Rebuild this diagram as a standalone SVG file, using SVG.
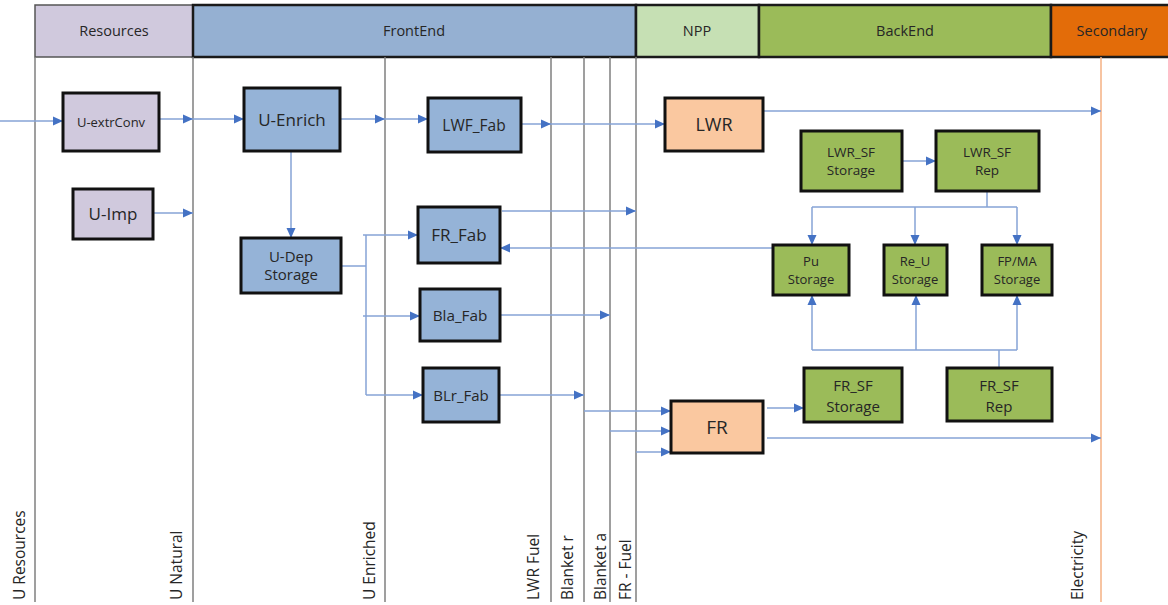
<svg xmlns="http://www.w3.org/2000/svg" width="1168" height="605" viewBox="0 0 1168 605">
<style>
text{font-family:"Open Sans","Noto Sans","Liberation Sans",sans-serif;fill:#262626;text-anchor:middle}
.hd{font-size:14.5px}
.vl{font-size:15.5px;text-anchor:start}
.lane{stroke:#7f7f7f;stroke-width:1.5;fill:none}
.node{stroke:#111;stroke-width:3}
.lav{fill:#d0c9dd}
.blu{fill:#95b3d7}
.pch{fill:#fac8a0}
.grn{fill:#9bbb59}
.c{stroke:#86a3d6;stroke-width:1.5;fill:none}
.ca{stroke:#86a3d6;stroke-width:1.5;fill:none;marker-end:url(#ah)}
</style>
<defs>
<marker id="ah" markerUnits="userSpaceOnUse" markerWidth="10" markerHeight="10" refX="10" refY="5" orient="auto">
<path d="M0,0.5 L10,5 L0,9.5 z" fill="#4472c4"/>
</marker>
</defs>
<rect width="1168" height="605" fill="#fff"/>
<g id="headers">
<rect x="35" y="5" width="158" height="52" fill="#d0c9dd" stroke="#555" stroke-width="1.5"/>
<rect x="193" y="5" width="443" height="52" fill="#95b0d2" stroke="#1a1a1a" stroke-width="2.5"/>
<rect x="636" y="5" width="123" height="52" fill="#c6e0b4" stroke="#1a1a1a" stroke-width="2.5"/>
<rect x="759" y="5" width="292" height="52" fill="#9bbb59" stroke="#1a1a1a" stroke-width="2.5"/>
<rect x="1051" y="5" width="122" height="52" fill="#e36c09" stroke="#1a1a1a" stroke-width="2.5"/>
<text class="hd" x="114" y="36">Resources</text>
<text class="hd" x="414" y="36">FrontEnd</text>
<text class="hd" x="697" y="36">NPP</text>
<text class="hd" x="905" y="36">BackEnd</text>
<text class="hd" x="1112" y="36">Secondary</text>
</g>
<g id="lanes">
<line class="lane" x1="35" y1="57" x2="35" y2="602"/>
<line class="lane" x1="193" y1="57" x2="193" y2="602"/>
<line class="lane" x1="385" y1="57" x2="385" y2="602"/>
<line class="lane" x1="551" y1="57" x2="551" y2="602"/>
<line class="lane" x1="584" y1="57" x2="584" y2="602"/>
<line class="lane" x1="610" y1="57" x2="610" y2="602"/>
<line class="lane" x1="636" y1="57" x2="636" y2="602"/>
<line x1="1101" y1="57" x2="1101" y2="602" stroke="#f4b183" stroke-width="1.5"/>
<text class="vl" transform="translate(25,600) rotate(-90)">U Resources</text>
<text class="vl" transform="translate(182,600) rotate(-90)">U Natural</text>
<text class="vl" transform="translate(375,600) rotate(-90)">U Enriched</text>
<text class="vl" transform="translate(539,600) rotate(-90)">LWR Fuel</text>
<text class="vl" transform="translate(573,600) rotate(-90)">Blanket r</text>
<text class="vl" transform="translate(606,600) rotate(-90)">Blanket a</text>
<text class="vl" transform="translate(631,600) rotate(-90)">FR - Fuel</text>
<text class="vl" transform="translate(1083,600) rotate(-90)">Electricity</text>
</g>
<g id="connectors">
<line class="ca" x1="0" y1="121" x2="63" y2="121"/>
<line class="ca" x1="159" y1="119" x2="193" y2="119"/>
<line class="ca" x1="193" y1="119" x2="244" y2="119"/>
<line class="ca" x1="340" y1="119" x2="385" y2="119"/>
<line class="ca" x1="385" y1="119" x2="428" y2="119"/>
<line class="ca" x1="521" y1="124" x2="551" y2="124"/>
<line class="ca" x1="551" y1="124" x2="665" y2="124"/>
<line class="ca" x1="763" y1="111" x2="1101" y2="111"/>
<line class="ca" x1="153" y1="213" x2="193" y2="213"/>
<line class="ca" x1="291" y1="151" x2="291" y2="238"/>
<polyline class="c" points="341,266 366,266"/>
<line class="c" x1="366" y1="235" x2="366" y2="395"/>
<line class="ca" x1="363" y1="235" x2="418" y2="235"/>
<line class="ca" x1="363" y1="316" x2="420" y2="316"/>
<line class="ca" x1="366" y1="395" x2="423" y2="395"/>
<line class="ca" x1="502" y1="211" x2="636" y2="211"/>
<line class="ca" x1="773" y1="248" x2="500" y2="248"/>
<line class="ca" x1="500" y1="315" x2="610" y2="315"/>
<line class="ca" x1="499" y1="395" x2="584" y2="395"/>
<line class="ca" x1="584" y1="411" x2="671" y2="411"/>
<line class="ca" x1="610" y1="431" x2="671" y2="431"/>
<line class="ca" x1="636" y1="452" x2="671" y2="452"/>
<line class="ca" x1="767" y1="408" x2="804" y2="408"/>
<line class="ca" x1="767" y1="438" x2="1101" y2="438"/>
<line class="ca" x1="902" y1="161" x2="936" y2="161"/>
<polyline class="c" points="987,191 987,207"/>
<polyline class="c" points="812,207 1017,207"/>
<line class="ca" x1="812" y1="207" x2="812" y2="245"/>
<line class="ca" x1="915" y1="207" x2="915" y2="245"/>
<line class="ca" x1="1017" y1="207" x2="1017" y2="245"/>
<polyline class="c" points="999,368 999,350"/>
<polyline class="c" points="812,350 1017,350"/>
<line class="ca" x1="812" y1="350" x2="812" y2="295"/>
<line class="ca" x1="916" y1="350" x2="916" y2="295"/>
<line class="ca" x1="1017" y1="350" x2="1017" y2="295"/>
</g>
<g id="U-extrConv"><rect class="node lav" x="63" y="93" width="96" height="58"/><text x="111" y="127" font-size="13">U-extrConv</text></g>
<g id="U-Imp"><rect class="node lav" x="73" y="189" width="80" height="50"/><text x="113" y="220" font-size="17">U-Imp</text></g>
<g id="U-Enrich"><rect class="node blu" x="244" y="88" width="96" height="63"/><text x="292" y="126" font-size="17">U-Enrich</text></g>
<g id="U-Dep-Storage"><rect class="node blu" x="241" y="238" width="100" height="55"/><text x="291" y="262" font-size="15">U-Dep</text><text x="291" y="280" font-size="15">Storage</text></g>
<g id="LWF_Fab"><rect class="node blu" x="428" y="98" width="93" height="54"/><text x="474" y="131" font-size="15.5">LWF_Fab</text></g>
<g id="FR_Fab"><rect class="node blu" x="418" y="207" width="82" height="56"/><text x="459" y="241" font-size="17">FR_Fab</text></g>
<g id="Bla_Fab"><rect class="node blu" x="420" y="289" width="80" height="52"/><text x="460" y="321" font-size="15.3">Bla_Fab</text></g>
<g id="BLr_Fab"><rect class="node blu" x="423" y="368" width="76" height="54"/><text x="461" y="401" font-size="15">BLr_Fab</text></g>
<g id="LWR"><rect class="node pch" x="665" y="98" width="98" height="53"/><text x="714" y="131" font-size="18">LWR</text></g>
<g id="FR"><rect class="node pch" x="671" y="401" width="92" height="52"/><text x="717" y="434" font-size="19">FR</text></g>
<g id="LWR_SF-Storage"><rect class="node grn" x="801" y="131" width="101" height="60"/><text x="851" y="157" font-size="13.5">LWR_SF</text><text x="851" y="175" font-size="13.5">Storage</text></g>
<g id="LWR_SF-Rep"><rect class="node grn" x="936" y="131" width="103" height="60"/><text x="987" y="157" font-size="13.5">LWR_SF</text><text x="987" y="175" font-size="13.5">Rep</text></g>
<g id="Pu-Storage"><rect class="node grn" x="773" y="245" width="76" height="50"/><text x="811" y="266" font-size="13">Pu</text><text x="811" y="284" font-size="13">Storage</text></g>
<g id="Re_U-Storage"><rect class="node grn" x="884" y="245" width="63" height="50"/><text x="915" y="266" font-size="13">Re_U</text><text x="915" y="284" font-size="13">Storage</text></g>
<g id="FP-MA-Storage"><rect class="node grn" x="982" y="245" width="70" height="50"/><text x="1017" y="266" font-size="13">FP/MA</text><text x="1017" y="284" font-size="13">Storage</text></g>
<g id="FR_SF-Storage"><rect class="node grn" x="804" y="368" width="98" height="54"/><text x="853" y="391" font-size="15">FR_SF</text><text x="853" y="412" font-size="15">Storage</text></g>
<g id="FR_SF-Rep"><rect class="node grn" x="947" y="368" width="105" height="53"/><text x="999" y="391" font-size="15">FR_SF</text><text x="999" y="412" font-size="15">Rep</text></g>
</svg>
